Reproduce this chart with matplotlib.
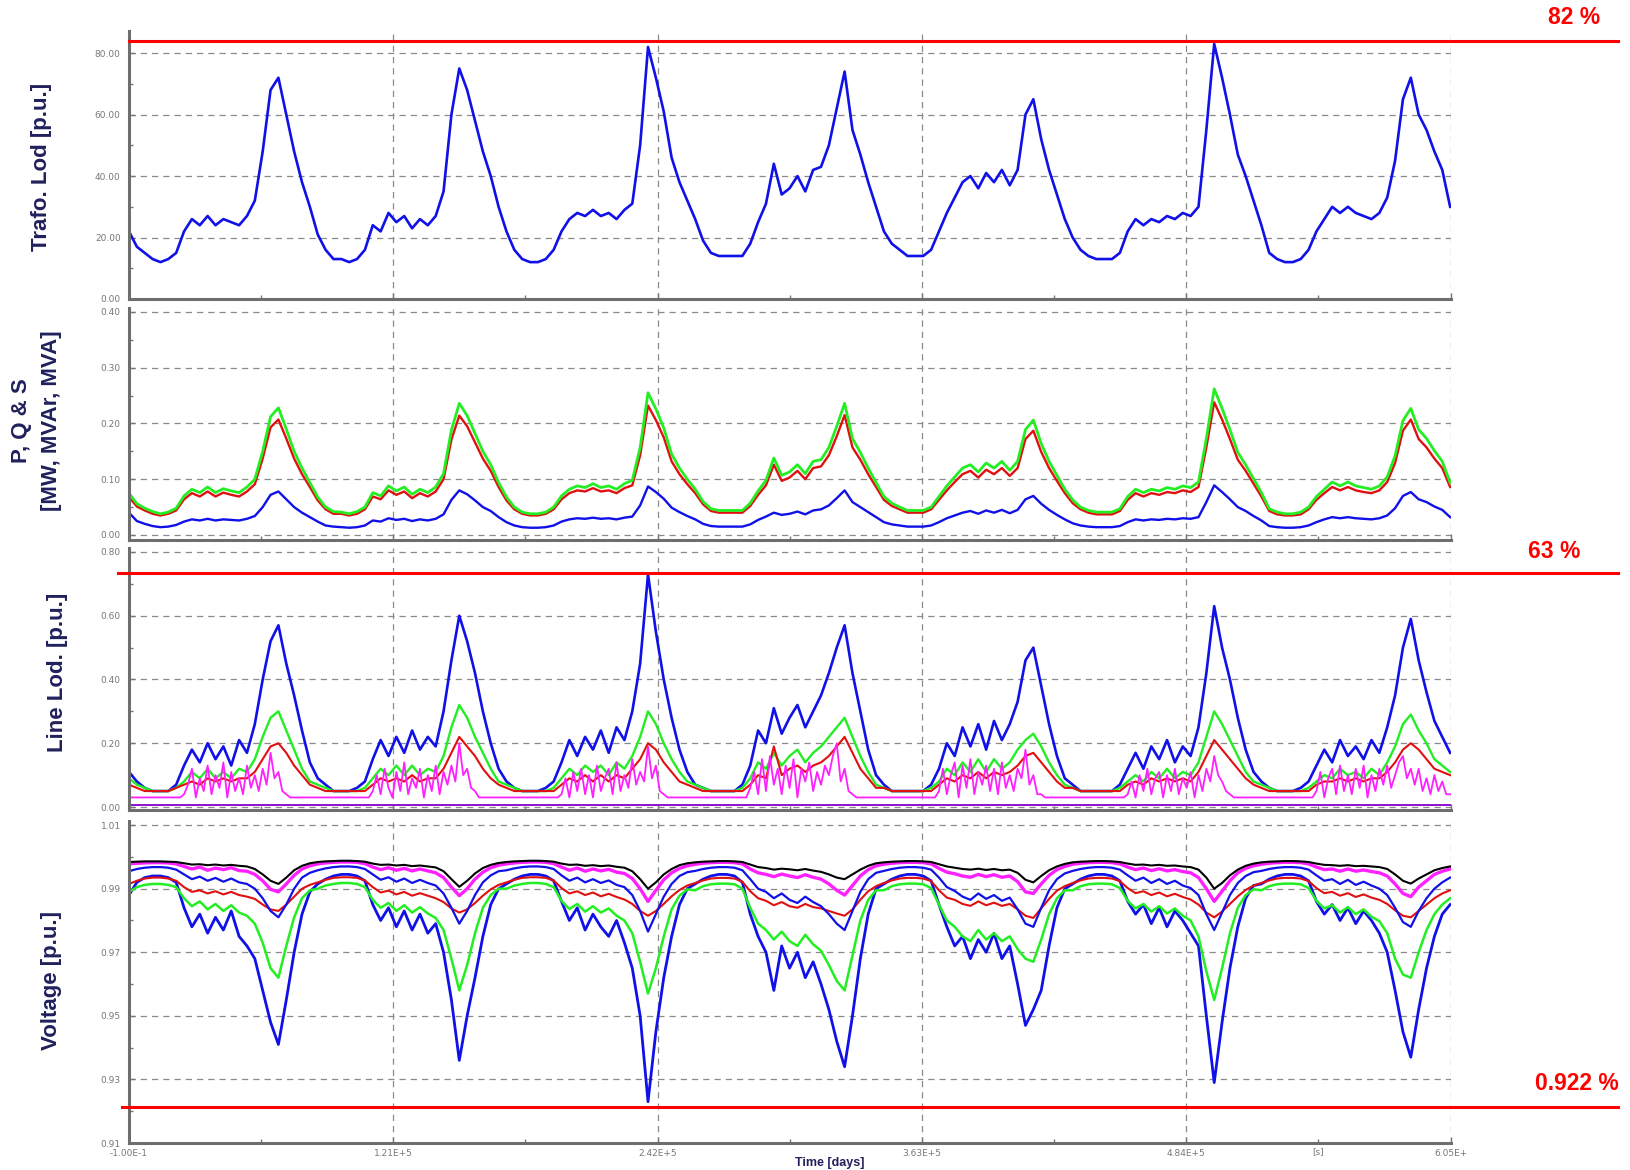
import numpy as np
import matplotlib.pyplot as plt
import matplotlib.transforms as mtransforms
from matplotlib.ticker import FixedLocator, FormatStrFormatter

# one week, hourly readings (time axis in seconds)
hours = np.arange(169)
t = hours * 3600.0
# the magenta line loading is read at half-hour steps
t_half = np.arange(337) * 1800.0

# ---- panel 1: transformer loading
trafo = [22, 17, 15, 13, 12, 13, 15, 22, 26, 24, 27, 24, 26, 25, 24, 27, 32, 48, 68, 72, 60, 48, 38, 30,
         21, 16, 13, 13, 12, 13, 16, 24, 22, 28, 25, 27, 23, 26, 24, 27, 35, 60, 75, 68, 58, 48, 40, 30,
         22, 16, 13, 12, 12, 13, 16, 22, 26, 28, 27, 29, 27, 28, 26, 29, 31, 50, 82, 72, 61, 46, 38, 32,
         26, 19, 15, 14, 14, 14, 14, 18, 25, 31, 44, 34, 36, 40, 35, 42, 43, 50, 62, 74, 55, 47, 38, 30,
         22, 18, 16, 14, 14, 14, 16, 22, 28, 33, 38, 40, 36, 41, 38, 42, 37, 42, 60, 65, 52, 42, 34, 26,
         20, 16, 14, 13, 13, 13, 15, 22, 26, 24, 26, 25, 27, 26, 28, 27, 30, 55, 83, 72, 60, 47, 40, 32,
         24, 15, 13, 12, 12, 13, 16, 22, 26, 30, 28, 30, 28, 27, 26, 28, 33, 45, 65, 72, 60, 55, 48, 42, 30]

# ---- panel 2: P, Q, S
s_mva = [.075, .056, .048, .042, .038, .041, .048, .070, .082, .076, .086, .076, .083, .079, .076, .086, .100, .150, .212, .228, .190, .150, .120, .094,
         .068, .050, .042, .041, .038, .042, .050, .076, .070, .088, .079, .086, .073, .082, .076, .086, .110, .188, .236, .214, .182, .150, .126, .094,
         .068, .050, .041, .038, .038, .041, .050, .070, .082, .088, .085, .092, .085, .088, .082, .092, .098, .157, .255, .226, .192, .145, .120, .100,
         .082, .060, .047, .044, .044, .044, .044, .057, .079, .098, .138, .107, .113, .126, .110, .132, .135, .157, .195, .236, .173, .148, .120, .094,
         .069, .057, .050, .044, .044, .044, .050, .069, .088, .104, .120, .126, .113, .129, .120, .132, .116, .132, .189, .206, .164, .132, .107, .082,
         .063, .050, .044, .041, .041, .041, .047, .069, .082, .076, .082, .079, .085, .082, .088, .085, .095, .173, .262, .227, .189, .148, .126, .101,
         .076, .047, .041, .038, .038, .041, .050, .069, .082, .095, .088, .095, .088, .085, .082, .088, .104, .142, .205, .227, .189, .173, .151, .132, .094]
p_mw = [.068, .051, .044, .038, .035, .038, .044, .064, .075, .069, .078, .069, .076, .072, .069, .078, .091, .137, .193, .207, .173, .137, .109, .086,
        .062, .046, .038, .038, .035, .038, .046, .069, .064, .080, .072, .078, .066, .075, .069, .078, .100, .171, .214, .195, .166, .137, .115, .086,
        .062, .046, .038, .035, .035, .038, .046, .064, .075, .080, .078, .084, .078, .080, .075, .084, .089, .143, .232, .206, .175, .132, .109, .091,
        .075, .055, .043, .040, .040, .040, .040, .052, .072, .089, .126, .097, .103, .115, .100, .120, .123, .143, .177, .215, .157, .135, .109, .086,
        .063, .052, .046, .040, .040, .040, .046, .063, .080, .095, .109, .115, .103, .117, .109, .120, .106, .120, .172, .187, .149, .120, .097, .075,
        .057, .046, .040, .037, .037, .037, .043, .063, .075, .069, .075, .072, .077, .075, .080, .077, .086, .157, .238, .207, .172, .135, .115, .092,
        .069, .043, .037, .035, .035, .037, .046, .063, .075, .086, .080, .086, .080, .077, .075, .080, .095, .129, .187, .207, .172, .157, .137, .120, .086]
q_mvar = [.040, .025, .020, .016, .014, .015, .018, .024, .028, .026, .029, .026, .028, .027, .026, .029, .034, .050, .072, .078, .064, .050, .040, .032,
          .024, .017, .015, .014, .013, .014, .017, .026, .024, .030, .027, .029, .025, .028, .026, .029, .037, .063, .080, .073, .062, .050, .043, .032,
          .023, .017, .014, .013, .013, .014, .017, .024, .028, .030, .029, .031, .029, .030, .028, .031, .033, .053, .087, .077, .065, .049, .041, .034,
          .028, .020, .016, .015, .015, .015, .015, .019, .027, .033, .040, .036, .038, .042, .037, .044, .046, .053, .066, .080, .059, .050, .041, .032,
          .023, .019, .017, .015, .015, .015, .017, .023, .030, .035, .040, .043, .038, .044, .040, .045, .039, .045, .064, .070, .056, .045, .036, .028,
          .021, .017, .015, .014, .014, .014, .016, .023, .028, .026, .028, .027, .029, .028, .030, .029, .032, .059, .089, .077, .064, .050, .043, .034,
          .026, .016, .014, .013, .013, .014, .017, .023, .028, .032, .030, .032, .030, .029, .028, .030, .035, .048, .070, .077, .064, .059, .051, .045, .032]

# ---- panel 3: line loading
line_blue = [.11, .08, .06, .05, .05, .05, .07, .13, .18, .14, .20, .15, .19, .13, .21, .17, .26, .40, .52, .57, .45, .35, .24, .14,
             .09, .07, .05, .05, .05, .06, .08, .15, .21, .16, .22, .17, .24, .18, .22, .19, .30, .46, .60, .52, .42, .30, .20, .12,
             .08, .06, .05, .05, .05, .06, .08, .14, .21, .16, .22, .18, .24, .17, .25, .21, .30, .45, .73, .55, .40, .28, .18, .11,
             .07, .06, .05, .05, .05, .05, .07, .13, .24, .20, .31, .23, .28, .32, .25, .30, .35, .42, .50, .57, .42, .30, .18, .10,
             .07, .05, .05, .05, .05, .05, .07, .12, .20, .16, .25, .19, .26, .18, .27, .21, .26, .33, .46, .50, .38, .26, .16, .09,
             .07, .05, .05, .05, .05, .05, .07, .12, .17, .12, .19, .15, .21, .14, .19, .16, .25, .42, .63, .50, .40, .28, .18, .11,
             .08, .06, .05, .05, .05, .06, .08, .13, .18, .14, .21, .16, .19, .15, .21, .17, .25, .35, .50, .59, .46, .36, .27, .22, .17]
line_green = [.09, .07, .06, .05, .05, .05, .06, .08, .11, .09, .12, .09, .11, .09, .12, .11, .15, .22, .28, .30, .24, .18, .12, .08,
              .07, .06, .05, .05, .05, .05, .06, .09, .12, .10, .13, .10, .13, .10, .12, .11, .16, .25, .32, .28, .22, .17, .12, .08,
              .07, .06, .05, .05, .05, .05, .06, .09, .12, .10, .13, .11, .13, .10, .14, .12, .16, .22, .30, .26, .20, .15, .11, .08,
              .07, .06, .05, .05, .05, .05, .06, .09, .14, .12, .17, .13, .16, .18, .14, .17, .19, .22, .25, .28, .22, .16, .11, .07,
              .06, .05, .05, .05, .05, .05, .06, .08, .12, .10, .14, .11, .15, .11, .15, .12, .14, .18, .21, .23, .19, .14, .10, .07,
              .06, .05, .05, .05, .05, .05, .06, .08, .10, .08, .11, .09, .12, .09, .11, .10, .14, .22, .30, .26, .21, .16, .11, .08,
              .07, .06, .05, .05, .05, .05, .06, .08, .10, .09, .12, .10, .11, .09, .12, .10, .14, .19, .26, .29, .24, .20, .15, .13, .11]
line_red = [.07, .06, .05, .05, .05, .05, .06, .07, .08, .07, .09, .08, .09, .08, .09, .09, .11, .15, .19, .20, .17, .13, .10, .07,
            .06, .05, .05, .05, .05, .05, .05, .07, .09, .08, .09, .08, .10, .08, .09, .09, .12, .17, .22, .19, .16, .12, .09, .07,
            .06, .05, .05, .05, .05, .05, .05, .07, .09, .08, .10, .08, .10, .08, .10, .09, .12, .15, .20, .18, .14, .11, .08, .07,
            .06, .05, .05, .05, .05, .05, .05, .07, .10, .09, .19, .10, .12, .13, .11, .13, .14, .16, .19, .22, .17, .12, .09, .06,
            .06, .05, .05, .05, .05, .05, .05, .07, .09, .08, .10, .09, .11, .09, .11, .10, .11, .13, .16, .17, .14, .11, .08, .06,
            .06, .05, .05, .05, .05, .05, .05, .07, .08, .07, .09, .08, .09, .08, .09, .08, .11, .16, .21, .18, .15, .12, .09, .07,
            .06, .05, .05, .05, .05, .05, .05, .07, .08, .08, .09, .08, .09, .08, .09, .09, .11, .14, .18, .20, .18, .15, .12, .11, .10]
# half-hourly, 48 per day + final
line_magenta = [
    .03, .03, .03, .03, .03, .03, .03, .03, .03, .03, .03, .03, .03, .03,
    .04, .07, .12, .03, .09, .05, .13, .04, .10, .06, .14, .03, .11, .05, .09, .04, .13, .06, .10, .05,
    .12, .07, .17, .09, .11, .05, .04, .03, .03, .03, .03, .03, .03, .03,
    .03, .03, .03, .03, .03, .03, .03, .03, .03, .03, .03, .03, .03, .03,
    .05, .10, .04, .12, .06, .03, .11, .05, .14, .04, .09, .06, .12, .03, .10, .05, .13, .04, .11, .07,
    .13, .08, .20, .10, .12, .06, .05, .03, .03, .03, .03, .03, .03, .03,
    .03, .03, .03, .03, .03, .03, .03, .03, .03, .03, .03, .03, .03, .03,
    .04, .09, .03, .11, .05, .12, .04, .10, .03, .13, .05, .09, .12, .04, .14, .05, .10, .06, .15, .07,
    .11, .08, .19, .09, .13, .05, .04, .03, .03, .03, .03, .03, .03, .03,
    .03, .03, .03, .03, .03, .03, .03, .03, .03, .03, .03, .03, .03, .03,
    .06, .11, .04, .15, .05, .16, .07, .12, .04, .13, .06, .15, .03, .12, .08, .14, .05, .11, .07, .13,
    .10, .16, .20, .08, .12, .05, .04, .03, .03, .03, .03, .03, .03, .03,
    .03, .03, .03, .03, .03, .03, .03, .03, .03, .03, .03, .03, .03, .03,
    .05, .12, .04, .10, .14, .03, .13, .06, .15, .04, .11, .07, .13, .05, .12, .04, .14, .06, .10, .05,
    .12, .09, .18, .07, .10, .04, .04, .03, .03, .03, .03, .03, .03, .03,
    .03, .03, .03, .03, .03, .03, .03, .03, .03, .03, .03, .03, .03, .03,
    .04, .08, .03, .10, .05, .12, .04, .09, .11, .03, .10, .05, .12, .04, .09, .06, .11, .03, .10, .05,
    .12, .08, .16, .10, .08, .05, .04, .03, .03, .03, .03, .03, .03, .03,
    .03, .03, .03, .03, .03, .03, .03, .03, .03, .03, .03, .03, .03, .03,
    .05, .11, .03, .09, .12, .04, .13, .05, .10, .04, .12, .06, .13, .03, .10, .05, .12, .07, .13, .06,
    .10, .14, .16, .09, .12, .07, .12, .05, .09, .04, .10, .05, .08, .04, .04]
violet_days = [0, 1, 2, 3, 4, 5, 6, 7]
line_violet = [0.006, 0.006, 0.006, 0.006, 0.006, 0.006, 0.006, 0.006]

# ---- panel 4: bus voltages
v_black = [.9984, .9985, .9986, .9986, .9986, .9985, .9984, .9980, .9976, .9977, .9974, .9976, .9973, .9975, .9972, .9970, .9962, .9945, .9925, .9915, .9935, .9958, .9972, .9980,
           .9984, .9986, .9987, .9988, .9988, .9987, .9985, .9979, .9975, .9976, .9973, .9975, .9971, .9973, .9970, .9967, .9955, .9930, .9906, .9925, .9948, .9965, .9975, .9981,
           .9984, .9986, .9987, .9988, .9988, .9987, .9985, .9979, .9975, .9976, .9972, .9974, .9971, .9973, .9969, .9966, .9955, .9930, .9900, .9920, .9945, .9962, .9974, .9980,
           .9983, .9985, .9986, .9987, .9987, .9986, .9984, .9976, .9968, .9965, .9960, .9963, .9961, .9958, .9962, .9957, .9953, .9945, .9935, .9930, .9945, .9960, .9972, .9980,
           .9983, .9985, .9986, .9987, .9987, .9986, .9984, .9977, .9970, .9966, .9962, .9960, .9963, .9959, .9962, .9958, .9960, .9950, .9928, .9920, .9940, .9958, .9970, .9978,
           .9983, .9985, .9986, .9987, .9987, .9986, .9984, .9979, .9975, .9976, .9973, .9975, .9972, .9973, .9970, .9968, .9960, .9935, .9900, .9918, .9942, .9960, .9972, .9979,
           .9983, .9985, .9986, .9987, .9987, .9986, .9984, .9979, .9975, .9974, .9972, .9974, .9971, .9972, .9970, .9968, .9962, .9945, .9925, .9916, .9932, .9945, .9958, .9965, .9970]
v_magenta = [.9978, .9980, .9981, .9982, .9982, .9981, .9978, .9970, .9962, .9968, .9958, .9965, .9960, .9966, .9957, .9955, .9945, .9925, .9898, .9890, .9915, .9942, .9962, .9972,
             .9978, .9981, .9983, .9984, .9984, .9983, .9979, .9968, .9960, .9966, .9958, .9964, .9956, .9962, .9956, .9950, .9935, .9905, .9878, .9900, .9930, .9952, .9966, .9974,
             .9978, .9981, .9983, .9984, .9984, .9983, .9979, .9968, .9958, .9965, .9955, .9962, .9956, .9961, .9952, .9948, .9932, .9900, .9860, .9895, .9928, .9950, .9964, .9972,
             .9977, .9980, .9982, .9983, .9983, .9982, .9978, .9962, .9950, .9945, .9938, .9946, .9940, .9935, .9944, .9936, .9930, .9915, .9895, .9880, .9910, .9940, .9960, .9972,
             .9977, .9980, .9982, .9983, .9983, .9982, .9978, .9964, .9952, .9947, .9940, .9936, .9945, .9938, .9944, .9936, .9940, .9922, .9890, .9885, .9915, .9942, .9960, .9970,
             .9977, .9980, .9982, .9983, .9983, .9982, .9978, .9968, .9960, .9965, .9957, .9963, .9956, .9960, .9954, .9950, .9935, .9900, .9860, .9892, .9925, .9950, .9964, .9972,
             .9977, .9980, .9982, .9983, .9983, .9982, .9978, .9968, .9960, .9962, .9955, .9962, .9955, .9959, .9954, .9950, .9940, .9915, .9885, .9875, .9905, .9925, .9945, .9955, .9962]
v_blue_hi = [.9955, .9962, .9966, .9968, .9968, .9966, .9960, .9945, .9930, .9938, .9925, .9934, .9922, .9932, .9920, .9915, .9900, .9870, .9830, .9810, .9850, .9900, .9935, .9950,
             .9958, .9964, .9968, .9970, .9970, .9968, .9962, .9945, .9928, .9936, .9922, .9932, .9918, .9928, .9918, .9910, .9885, .9840, .9790, .9830, .9880, .9920, .9942, .9955,
             .9958, .9964, .9968, .9970, .9970, .9968, .9962, .9942, .9925, .9935, .9920, .9930, .9918, .9926, .9912, .9905, .9880, .9830, .9765, .9820, .9875, .9915, .9940, .9952,
             .9956, .9962, .9966, .9968, .9968, .9966, .9958, .9930, .9900, .9890, .9870, .9885, .9865, .9855, .9875, .9858, .9845, .9820, .9790, .9770, .9830, .9890, .9930, .9950,
             .9956, .9962, .9966, .9968, .9968, .9966, .9960, .9935, .9905, .9893, .9875, .9865, .9885, .9868, .9880, .9862, .9872, .9835, .9790, .9780, .9840, .9895, .9930, .9948,
             .9956, .9962, .9966, .9968, .9968, .9966, .9960, .9942, .9925, .9935, .9918, .9930, .9915, .9925, .9910, .9902, .9880, .9820, .9770, .9825, .9880, .9918, .9940, .9952,
             .9956, .9962, .9966, .9968, .9968, .9966, .9960, .9942, .9925, .9930, .9915, .9928, .9912, .9922, .9910, .9900, .9880, .9840, .9795, .9780, .9830, .9870, .9900, .9920, .9935]
v_red = [.9915, .9925, .9932, .9935, .9935, .9932, .9925, .9905, .9890, .9895, .9885, .9892, .9882, .9890, .9880, .9875, .9868, .9850, .9835, .9830, .9850, .9875, .9900, .9912,
         .9920, .9928, .9934, .9936, .9936, .9934, .9926, .9905, .9888, .9894, .9882, .9890, .9878, .9886, .9878, .9870, .9858, .9838, .9825, .9835, .9855, .9878, .9898, .9912,
         .9920, .9928, .9934, .9936, .9936, .9934, .9926, .9902, .9885, .9892, .9880, .9888, .9876, .9884, .9874, .9866, .9852, .9830, .9815, .9830, .9852, .9876, .9896, .9910,
         .9918, .9926, .9932, .9934, .9934, .9932, .9922, .9892, .9870, .9862, .9848, .9858, .9845, .9840, .9852, .9842, .9838, .9830, .9822, .9815, .9835, .9865, .9892, .9908,
         .9918, .9926, .9932, .9934, .9934, .9932, .9924, .9895, .9872, .9865, .9852, .9846, .9860, .9848, .9856, .9846, .9852, .9835, .9815, .9808, .9838, .9868, .9894, .9908,
         .9918, .9926, .9932, .9934, .9934, .9932, .9924, .9902, .9886, .9892, .9880, .9888, .9876, .9884, .9874, .9866, .9850, .9825, .9810, .9828, .9852, .9876, .9896, .9910,
         .9918, .9926, .9932, .9934, .9934, .9932, .9924, .9902, .9886, .9890, .9878, .9886, .9874, .9882, .9872, .9865, .9852, .9832, .9815, .9810, .9830, .9850, .9870, .9885, .9895]
v_green = [.9890, .9905, .9912, .9915, .9915, .9912, .9905, .9870, .9845, .9860, .9835, .9852, .9830, .9848, .9825, .9815, .9790, .9730, .9650, .9620, .9720, .9810, .9870, .9895,
           .9900, .9910, .9915, .9918, .9918, .9915, .9905, .9865, .9840, .9855, .9830, .9848, .9825, .9842, .9822, .9808, .9770, .9680, .9580, .9660, .9760, .9840, .9880, .9900,
           .9900, .9910, .9915, .9918, .9918, .9915, .9905, .9862, .9836, .9852, .9828, .9845, .9825, .9838, .9815, .9800, .9760, .9670, .9570, .9650, .9750, .9835, .9878, .9898,
           .9895, .9908, .9914, .9916, .9916, .9914, .9900, .9840, .9790, .9770, .9740, .9765, .9735, .9720, .9755, .9725, .9705, .9660, .9610, .9580, .9690, .9800, .9865, .9895,
           .9895, .9908, .9914, .9916, .9916, .9914, .9902, .9850, .9800, .9780, .9750, .9735, .9770, .9740, .9760, .9735, .9750, .9710, .9680, .9670, .9740, .9820, .9870, .9895,
           .9895, .9908, .9914, .9916, .9916, .9914, .9902, .9862, .9838, .9852, .9828, .9845, .9822, .9838, .9815, .9800, .9750, .9640, .9550, .9650, .9760, .9840, .9880, .9898,
           .9895, .9908, .9914, .9916, .9916, .9914, .9902, .9862, .9838, .9848, .9825, .9842, .9820, .9835, .9812, .9798, .9760, .9680, .9630, .9620, .9700, .9770, .9820, .9850, .9870]
v_blue_lo = [.9880, .9920, .9935, .9940, .9940, .9935, .9920, .9840, .9780, .9820, .9760, .9810, .9770, .9830, .9750, .9720, .9680, .9580, .9480, .9410, .9550, .9700, .9820, .9890,
             .9915, .9930, .9940, .9945, .9945, .9940, .9925, .9850, .9800, .9840, .9780, .9830, .9770, .9820, .9760, .9790, .9700, .9550, .9360, .9500, .9620, .9750, .9850, .9900,
             .9915, .9930, .9940, .9945, .9945, .9940, .9925, .9860, .9800, .9840, .9770, .9820, .9780, .9750, .9800, .9730, .9650, .9500, .9230, .9450, .9620, .9750, .9850, .9900,
             .9915, .9930, .9940, .9945, .9945, .9940, .9920, .9820, .9750, .9700, .9580, .9720, .9650, .9700, .9620, .9670, .9600, .9520, .9420, .9340, .9500, .9680, .9820, .9900,
             .9915, .9930, .9940, .9945, .9945, .9940, .9925, .9850, .9780, .9720, .9750, .9680, .9740, .9700, .9760, .9680, .9720, .9600, .9470, .9520, .9580, .9720, .9840, .9900,
             .9915, .9930, .9940, .9945, .9945, .9940, .9925, .9860, .9820, .9850, .9790, .9840, .9780, .9830, .9800, .9760, .9720, .9500, .9290, .9480, .9650, .9780, .9870, .9910,
             .9915, .9930, .9940, .9945, .9945, .9940, .9925, .9860, .9820, .9850, .9800, .9840, .9790, .9830, .9800, .9760, .9700, .9580, .9450, .9370, .9520, .9650, .9750, .9820, .9850]

xticks = [0, 1.21e5, 2.42e5, 3.63e5, 4.84e5, 6.05e5]
xticklabels = ['-1.00E-1', '1.21E+5', '2.42E+5', '3.63E+5', '4.84E+5', '6.05E+']

BLUE = '#1010e8'
GREEN = '#22ee22'
RED = '#e01010'
MAGENTA = '#ff20ff'
NAVY = '#20205c'
GRID = '#8a8a8a'

fig = plt.figure(figsize=(16.3, 11.7), dpi=100)

L, W = 129 / 1630, 1322 / 1630


def panel(top, bottom, ylim, yticks):
    ax = fig.add_axes([L, 1 - bottom / 1170, W, (bottom - top) / 1170])
    ax.set_xlim(0, 6.052e5)
    ax.set_ylim(*ylim)
    ax.xaxis.set_major_locator(FixedLocator(xticks))
    ax.xaxis.set_minor_locator(FixedLocator([(a + b) / 2 for a, b in zip(xticks[:-1], xticks[1:])]))
    ax.yaxis.set_major_locator(FixedLocator(yticks))
    ax.yaxis.set_minor_locator(FixedLocator([(a + b) / 2 for a, b in zip(yticks[:-1], yticks[1:])]))
    ax.yaxis.set_major_formatter(FormatStrFormatter('%.2f'))
    ax.grid(True, which='major', color=GRID, linestyle=(0, (5, 4)), linewidth=0.9)
    for s in ['top', 'right']:
        ax.spines[s].set_visible(False)
    for s in ['left', 'bottom']:
        ax.spines[s].set_color('#6e6e6e')
        ax.spines[s].set_linewidth(2.2)
    ax.tick_params(which='both', direction='in', colors='#777777', labelsize=6.5, pad=6)
    ax.tick_params(which='major', length=4, width=1)
    ax.tick_params(which='minor', length=3, width=1)
    ax.tick_params(axis='x', labelbottom=False)
    return ax


def red_limit(ax, y, x0):
    tr = mtransforms.blended_transform_factory(ax.transAxes, ax.transData)
    ax.plot([x0, 1.126], [y, y], color='#ff0000', lw=2.2, transform=tr, clip_on=False, zorder=10)


# panel 1
ax1 = panel(31, 299, (0, 87.2), [0, 20, 40, 60, 80])
ax1.plot(t, trafo, color=BLUE, lw=1.9)
red_limit(ax1, 83.9, 0.0)

# panel 2
ax2 = panel(308, 540, (-0.009, 0.407), [0, 0.1, 0.2, 0.3, 0.4])
ax2.plot(t, q_mvar, color=BLUE, lw=1.7)
ax2.plot(t, p_mw, color=RED, lw=1.7)
ax2.plot(t, s_mva, color=GREEN, lw=2.0)

# panel 3
ax3 = panel(548, 810, (-0.0094, 0.8125), [0, 0.2, 0.4, 0.6, 0.8])
ax3.plot(t, line_blue, color=BLUE, lw=1.9)
ax3.plot(t, line_green, color=GREEN, lw=1.7)
ax3.plot(t, line_red, color=RED, lw=1.5)
ax3.plot(t_half, line_magenta, color=MAGENTA, lw=1.3)
ax3.plot(np.array(violet_days) * 86400.0, line_violet, color='#9010d0', lw=1.4)
red_limit(ax3, 0.734, -0.008)

# panel 4
ax4 = panel(821, 1143, (0.91, 1.0113), [0.91, 0.93, 0.95, 0.97, 0.99, 1.01])
ax4.plot(t, v_blue_lo, color=BLUE, lw=2.0)
ax4.plot(t, v_green, color=GREEN, lw=1.8)
ax4.plot(t, v_red, color=RED, lw=1.5)
ax4.plot(t, v_blue_hi, color=BLUE, lw=1.6)
ax4.plot(t, v_magenta, color=MAGENTA, lw=2.4)
ax4.plot(t, v_black, color='black', lw=1.5)
red_limit(ax4, 0.9213, -0.005)
ax4.tick_params(axis='x', labelbottom=True, pad=4)
ax4.set_xticklabels(xticklabels)
ax4.text(5.445e5, -0.012, '[s]', transform=mtransforms.blended_transform_factory(ax4.transData, ax4.transAxes),
         ha='center', va='top', fontsize=6.5, color='#777777')

# axis titles
lab = dict(rotation=90, ha='center', va='center', fontsize=16, fontweight='bold',
           color=NAVY, family='Liberation Sans')
fig.text(42 / 1630, 1 - 167 / 1170, 'Trafo. Lod [p.u.]', **lab)
fig.text(21 / 1630, 1 - 421 / 1170, 'P, Q & S', **lab)
fig.text(52 / 1630, 1 - 421 / 1170, '[MW, MVAr, MVA]', **lab)
fig.text(57 / 1630, 1 - 672 / 1170, 'Line Lod. [p.u.]', **lab)
fig.text(52 / 1630, 1 - 980 / 1170, 'Voltage [p.u.]', **lab)
fig.text(830 / 1630, 1 / 1170, 'Time [days]', ha='center', va='bottom', fontsize=9,
         fontweight='bold', color=NAVY, family='Liberation Sans')

# limit annotations
red = dict(ha='right', va='center', fontsize=16.5, fontweight='bold', color='#ff0000', family='Liberation Sans')
fig.text(1600 / 1630, 1 - 18 / 1170, '82 %', **red)
fig.text(1580 / 1630, 1 - 552 / 1170, '63 %', **red)
fig.text(1619 / 1630, 1 - 1083 / 1170, '0.922 %', **red)

fig.savefig('out.png', dpi=100)
